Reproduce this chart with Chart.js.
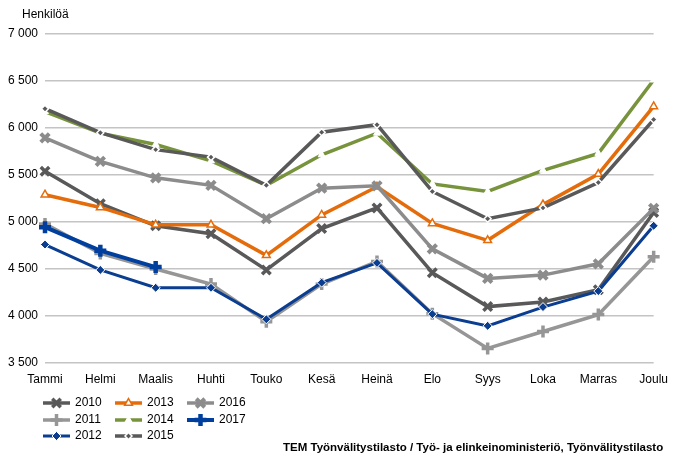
<!DOCTYPE html>
<html><head><meta charset="utf-8">
<script src="https://cdn.jsdelivr.net/npm/chart.js@4/dist/chart.umd.min.js"></script>
<style>html,body{margin:0;padding:0;background:#fff;}#wrap{position:relative;width:677px;height:456px;}</style>
</head><body><div id="wrap"><canvas id="c" width="677" height="456"></canvas></div>
<script>
const categories = ['Tammi','Helmi','Maalis','Huhti','Touko','Kesä','Heinä','Elo','Syys','Loka','Marras','Joulu'];
const seriesNames = ['2010','2011','2012','2013','2014','2015','2016','2017'];
const y2010 = [5540,5195,4960,4875,4490,4930,5150,4460,4100,4150,4280,5100];
const y2011 = [4980,4665,4500,4340,3940,4340,4580,4025,3655,3835,4015,4630];
const y2012 = [4760,4490,4300,4300,3965,4355,4565,4020,3895,4095,4265,4960];
const y2013 = [5290,5155,4970,4970,4645,5075,5375,4985,4805,5185,5510,6230];
const y2014 = [6175,5945,5825,5650,5390,5715,5945,5405,5325,5550,5730,6510];
const y2015 = [6205,5950,5770,5690,5390,5955,6035,5325,5035,5150,5420,6090];
const y2016 = [5895,5645,5470,5390,5035,5360,5385,4715,4400,4435,4555,5145];
const y2017 = [4945,4695,4520,null,null,null,null,null,null,null,null,null];
const yTicks = [3500,4000,4500,5000,5500,6000,6500,7000];
const axisTitle = 'Henkilöä';
const sourceText = 'TEM Työnvälitystilasto / Työ- ja elinkeinoministeriö, Työnvälitystilasto';

const values = [y2010,y2011,y2012,y2013,y2014,y2015,y2016,y2017];
const styles = [
  {c:'#595959', w:3.5, ps:'crossRot', r:6, pb:3.5, pf:'#595959', pc:'#595959'},
  {c:'#969696', w:3.5, ps:'cross', r:6, pb:3.5, pf:'#969696', pc:'#969696'},
  {c:'#0b3d91', w:3, ps:'rectRot', r:4.5, pb:1, pf:'#0b3d91', pc:'#ffffff'},
  {c:'#e46c0a', w:3.5, ps:'triangle', r:4.5, pb:1.5, pf:'#ffffff', pc:'#e46c0a'},
  {c:'#77933c', w:3.5, ps:'triangle', r:4, pb:1, pf:'#ffffff', pc:'#ffffff'},
  {c:'#595959', w:3.5, ps:'rectRot', r:3.5, pb:1.5, pf:'#595959', pc:'#ffffff'},
  {c:'#8c8c8c', w:3.5, ps:'crossRot', r:6, pb:4, pf:'#8c8c8c', pc:'#8c8c8c'},
  {c:'#003f9e', w:4, ps:'cross', r:6, pb:4.5, pf:'#003f9e', pc:'#003f9e'}
];

const datasets = seriesNames.map((n,i)=>({
  label:n, data:values[i], borderColor:styles[i].c, borderWidth:styles[i].w,
  pointStyle:styles[i].ps, pointRadius:styles[i].r, pointBorderWidth:styles[i].pb,
  pointBackgroundColor:styles[i].pf, pointBorderColor:styles[i].pc,
  pointHoverRadius:styles[i].r, tension:0, fill:false, order:7-i, spanGaps:false
}));

const FONT = '"Liberation Sans", Arial, sans-serif';

const extras = {
  id:'extras',
  afterDraw(chart){
    const ctx = chart.ctx;
    ctx.save();
    ctx.fillStyle = '#000';
    ctx.font = '12px ' + FONT;
    ctx.textBaseline = 'middle';
    ctx.textAlign = 'left';
    ctx.fillText(axisTitle, 22, 15);
    const cols = [43, 115, 187];
    const rows = [403, 420, 436];
    seriesNames.forEach((n,i)=>{
      const col = Math.floor(i/3), row = i%3;
      const x0 = cols[col], y = rows[row];
      const s = styles[i];
      ctx.strokeStyle = s.c; ctx.lineWidth = s.w; ctx.lineCap='butt';
      ctx.beginPath(); ctx.moveTo(x0, y); ctx.lineTo(x0+27, y); ctx.stroke();
      ctx.fillStyle = s.pf; ctx.strokeStyle = s.pc; ctx.lineWidth = s.pb;
      Chart.helpers.drawPoint(ctx, {pointStyle:s.ps, radius:s.r, borderWidth:s.pb, rotation:0}, x0+13.5, y);
      ctx.fillStyle = '#000';
      ctx.font = '12px ' + FONT;
      ctx.fillText(n, x0+32, y);
    });
    ctx.font = 'bold 11.5px ' + FONT;
    ctx.fillStyle = '#000';
    ctx.textAlign = 'left';
    ctx.fillText(sourceText, 283, 448);
    ctx.restore();
  }
};

new Chart(document.getElementById('c'), {
  type:'line',
  data:{labels:categories, datasets},
  options:{
    responsive:false, animation:false, devicePixelRatio:1,
    layout:{padding:{left:0, right:17, top:34, bottom:0}},
    plugins:{legend:{display:false}, tooltip:{enabled:false}},
    scales:{
      x:{
        offset:false,
        grid:{display:false, drawTicks:false},
        border:{display:false},
        ticks:{color:'#000', font:{family:FONT, size:12}, padding:9, maxRotation:0, autoSkip:false},
        afterFit(s){ s.height = 93; }
      },
      y:{
        min:3500, max:7000,
        afterBuildTicks(s){ s.ticks = yTicks.map(v=>({value:v})); },
        grid:{color:'#c4c4c4', lineWidth:1.5, drawTicks:false},
        border:{display:false},
        ticks:{color:'#000', font:{family:FONT, size:12}, padding:7,
          callback:v=>String(v).replace(/\B(?=(\d{3})+(?!\d))/g,' ')},
        afterFit(s){ s.width = 45; }
      }
    }
  },
  plugins:[extras]
});
</script></body></html>
